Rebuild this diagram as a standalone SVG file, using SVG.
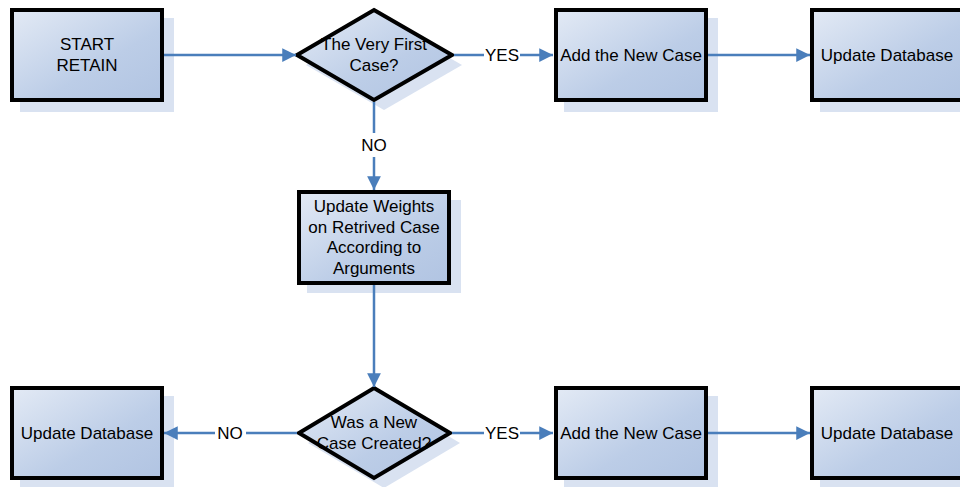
<svg xmlns="http://www.w3.org/2000/svg" width="960" height="487" viewBox="0 0 960 487">
<defs>
<linearGradient id="g" x1="0" y1="0" x2="1" y2="1">
<stop offset="0" stop-color="#e3eaf5"/>
<stop offset="0.6" stop-color="#bccde7"/>
<stop offset="1" stop-color="#b1c4e2"/>
</linearGradient>
<marker id="ah" viewBox="0 0 10 10" refX="10" refY="5" markerWidth="5.5" markerHeight="5.5" markerUnits="strokeWidth" orient="auto">
<path d="M0,0 L10,5 L0,10 z" fill="#4a7ebb"/>
</marker>
</defs>
<style>
.sh{fill:#d9e2f1}
.bx{fill:url(#g);stroke:#000;stroke-width:4}
.t{font-family:"Liberation Sans",Arial,sans-serif;font-size:17px;fill:#000;text-anchor:middle}
.c{stroke:#4a7ebb;stroke-width:2.5;fill:none}
.ca{stroke:#4a7ebb;stroke-width:2.5;fill:none;marker-end:url(#ah)}
</style>
<rect width="960" height="487" fill="#fff"/>
<g id="start">
<rect class="sh" x="20" y="18" width="154" height="94"/>
<rect class="bx" x="12" y="10" width="150" height="90"/>
<text class="t" x="87" y="50">START</text>
<text class="t" x="87" y="71">RETAIN</text>
</g>
<g id="first">
<polygon class="sh" points="384,20 462,65 384,110 306,65"/>
<polygon class="bx" points="374,10 452,55 374,100 297,55"/>
<text class="t" x="374" y="50">The Very First</text>
<text class="t" x="374" y="71">Case?</text>
</g>
<g id="add1">
<rect class="sh" x="564" y="18" width="154" height="94"/>
<rect class="bx" x="556" y="10" width="150" height="90"/>
<text class="t" x="631" y="61">Add the New Case</text>
</g>
<g id="db1">
<rect class="sh" x="820" y="18" width="154" height="94"/>
<rect class="bx" x="812" y="10" width="150" height="90"/>
<text class="t" x="887" y="61">Update Database</text>
</g>
<g id="weights">
<rect class="sh" x="307" y="200" width="154" height="93"/>
<rect class="bx" x="299" y="192" width="150" height="91"/>
<text class="t" x="374" y="212">Update Weights</text>
<text class="t" x="374" y="233">on Retrived Case</text>
<text class="t" x="374" y="253">According to</text>
<text class="t" x="374" y="274">Arguments</text>
</g>
<g id="created">
<polygon class="sh" points="384,398 460,443 384,488 308,443"/>
<polygon class="bx" points="374,388 450,433 374,478 299,433"/>
<text class="t" x="374" y="428">Was a New</text>
<text class="t" x="374" y="449">Case Created?</text>
</g>
<g id="db2">
<rect class="sh" x="20" y="396" width="154" height="94"/>
<rect class="bx" x="12" y="388" width="150" height="90"/>
<text class="t" x="87" y="439">Update Database</text>
</g>
<g id="add2">
<rect class="sh" x="564" y="396" width="154" height="94"/>
<rect class="bx" x="556" y="388" width="150" height="90"/>
<text class="t" x="631" y="439">Add the New Case</text>
</g>
<g id="db3">
<rect class="sh" x="820" y="396" width="154" height="94"/>
<rect class="bx" x="812" y="388" width="150" height="90"/>
<text class="t" x="887" y="439">Update Database</text>
</g>
<g id="connectors">
<line class="ca" x1="164" y1="55" x2="296" y2="55"/>
<line class="c" x1="454" y1="55" x2="484" y2="55"/>
<line class="ca" x1="520" y1="55" x2="553" y2="55"/>
<line class="ca" x1="708" y1="55" x2="810" y2="55"/>
<line class="c" x1="374" y1="102" x2="374" y2="133"/>
<line class="ca" x1="374" y1="157" x2="374" y2="190"/>
<line class="ca" x1="374" y1="285" x2="374" y2="387"/>
<line class="c" x1="297" y1="433" x2="246" y2="433"/>
<line class="ca" x1="215" y1="433" x2="164" y2="433"/>
<line class="c" x1="452" y1="433" x2="484" y2="433"/>
<line class="ca" x1="520" y1="433" x2="553" y2="433"/>
<line class="ca" x1="708" y1="433" x2="810" y2="433"/>
<text class="t" x="502" y="61">YES</text>
<text class="t" x="374" y="151">NO</text>
<text class="t" x="230" y="439">NO</text>
<text class="t" x="502" y="439">YES</text>
</g>
</svg>
